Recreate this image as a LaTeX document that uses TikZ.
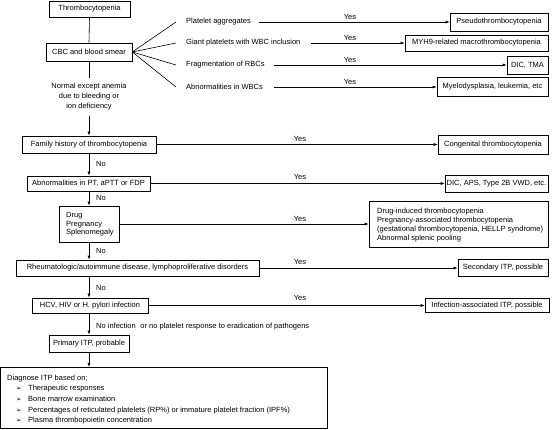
\documentclass[tikz,border=0pt]{standalone}
\usepackage{fontspec}
\setmainfont{Liberation Sans}
\newfontfamily\symfont{DejaVu Sans}
\usetikzlibrary{arrows.meta}
\begin{document}
\begin{tikzpicture}[x=1pt,y=-1pt, font=\fontsize{7.5}{9}\selectfont,
  box/.style={draw, line width=0.6pt, inner sep=0pt, align=center},
  ln/.style={line width=0.6pt},
  arr/.style={ln, -{Latex[length=4pt,width=3pt]}},
  lbl/.style={inner sep=0pt, anchor=base},
  txt/.style={inner sep=0pt, anchor=west},
  bul/.style={inner sep=0pt, anchor=base west, font=\symfont\fontsize{6.5}{7}\selectfont},
  ]
\useasboundingbox (0,0) rectangle (555,430);

% main column
\node[box, minimum width=81pt, minimum height=16pt] (thr) at (89.5,9) {Thrombocytopenia};
\node[box, minimum width=86pt, minimum height=18pt] (cbc) at (89,52) {CBC and blood smear};
\node[inner sep=0pt, align=center, font=\fontsize{7.5}{10}\selectfont] (norm) at (89,97) {Normal except anemia\\due to bleeding or\\ion deficiency};
\coordinate (n1) at (89,78);
\coordinate (n2) at (89,116);
\node[box, minimum width=134pt, minimum height=17pt] (fam) at (89,144.5) {Family history of thrombocytopenia};
\node[box, minimum width=123pt, minimum height=15pt] (abn) at (88.5,183.5) {Abnormalities in PT, aPTT or FDP};
\node[box, minimum width=60pt, minimum height=36pt] (drug) at (89,224) {};
\node[txt, align=left, font=\fontsize{7.5}{8.7}\selectfont] (drugt) at (66,224.5) {Drug\\Pregnancy\\Splenomegaly};
\node[box, minimum width=243pt, minimum height=16pt] (rheu) at (137.5,268) {Rheumatologic/autoimmune disease, lymphoproliferative disorders};
\node[box, minimum width=116pt, minimum height=15pt] (hcv) at (90,305.5) {HCV, HIV or H. pylori infection};
\node[box, minimum width=80pt, minimum height=17pt] (prim) at (89,343.5) {Primary ITP, probable};
\node[draw, line width=0.6pt, inner sep=0pt, anchor=north west, minimum width=326.5pt, minimum height=61pt] (diag) at (0.5,367) {};

% connectors main column
\draw[ln] (thr.south) -- (cbc.north);
\draw[ln] (cbc.south) -- (n1);
\draw[arr] (n2) -- (fam.north);
\draw[arr] (fam.south) -- (abn.north -| fam.south);
\draw[arr] (abn.south -| drug.north) -- (drug.north);
\draw[arr] (drug.south) -- (drug.south |- rheu.north);
\draw[arr] (drug.south |- rheu.south) -- (drug.south |- hcv.north);
\draw[arr] (drug.south |- hcv.south) -- (drug.south |- prim.north);
\draw[arr] (drug.south |- prim.south) -- (drug.south |- diag.north);

\node[lbl, anchor=base west] (no1) at (96,166.5) {No};
\node[lbl, anchor=base west] (no2) at (96,200.5) {No};
\node[lbl, anchor=base west] (no3) at (96,253.5) {No};
\node[lbl, anchor=base west] (no4) at (96,290.5) {No};
\node[lbl, anchor=base west] (noinf) at (96,328.5) {No infection\hspace{2.5pt} or no platelet response to eradication of pathogens};

% fan from CBC
\coordinate (f1) at (176,22);
\coordinate (f2) at (176,43);
\coordinate (f3) at (176,65);
\coordinate (f4) at (176,87);
\draw[ln] (cbc.east) -- (f1);
\draw[ln] (cbc.east) -- (f2);
\draw[ln] (cbc.east) -- (f3);
\draw[ln] (cbc.east) -- (f4);
\node[txt] (t1) at (186,22) {Platelet aggregates};
\node[txt] (t2) at (186,43) {Giant platelets with WBC inclusion};
\node[txt] (t3) at (186,65) {Fragmentation of RBCs};
\node[txt] (t4) at (186,87) {Abnormalities in WBCs};

% result boxes
\node[box, minimum width=98pt, minimum height=18pt] (pseudo) at (499,22) {Pseudothrombocytopenia};
\node[box, minimum width=143pt, minimum height=16pt] (myh) at (476.5,43) {MYH9-related macrothrombocytopenia};
\node[box, minimum width=41pt, minimum height=18pt] (dtma) at (527.5,65) {DIC, TMA};
\node[box, minimum width=111pt, minimum height=19pt] (myel) at (492.5,87) {Myelodysplasia, leukemia, etc};
\node[box, minimum width=110pt, minimum height=19pt] (cong) at (493,144.5) {Congenital thrombocytopenia};
\node[box, minimum width=103pt, minimum height=17pt] (daps) at (496.5,183.5) {DIC, APS, Type 2B VWD, etc.};
\node[box, minimum width=179pt, minimum height=46pt] (dres) at (458.5,224) {};
\node[txt, align=left, font=\fontsize{7.5}{9}\selectfont] (drest) at (377,225) {Drug-induced thrombocytopenia\\Pregnancy-associated thrombocytopenia\\(gestational thrombocytopenia, HELLP syndrome)\\Abnormal splenic pooling};
\node[box, minimum width=90pt, minimum height=17pt] (sitp) at (503,268) {Secondary ITP, possible};
\node[box, minimum width=124pt, minimum height=14pt] (iitp) at (487,305.5) {Infection-associated ITP, possible};

% yes connectors
\draw[arr] ([xshift=8pt]t1.east) -- (pseudo.west);
\draw[arr] ([xshift=10pt]t2.east) -- (myh.west);
\draw[arr] ([xshift=9pt]t3.east) -- (dtma.west);
\draw[arr] ([xshift=11pt]t4.east) -- (myel.west);
\draw[arr] (fam.east) -- (cong.west);
\draw[arr] (abn.east) -- (daps.west);
\draw[arr] (drug.east) -- (dres.west);
\draw[arr] (rheu.east) -- (sitp.west);
\draw[arr] (hcv.east) -- (iitp.west);

\node[lbl] (y1) at (350,19.5) {Yes};
\node[lbl] (y2) at (350,40.5) {Yes};
\node[lbl] (y3) at (350,62.5) {Yes};
\node[lbl] (y4) at (350,84.5) {Yes};
\node[lbl] (y5) at (300,142) {Yes};
\node[lbl] (y6) at (300,179.5) {Yes};
\node[lbl] (y7) at (300,221.5) {Yes};
\node[lbl] (y8) at (300,265) {Yes};
\node[lbl] (y9) at (300,300.5) {Yes};

% diagnose box text
\node[lbl, anchor=base west] (d0) at (7,381) {Diagnose ITP based on;};
\node[bul] (b1) at (16,391) {➢};
\node[bul] (b2) at (16,402) {➢};
\node[bul] (b3) at (16,413) {➢};
\node[bul] (b4) at (16,423) {➢};
\node[lbl, anchor=base west] (d1) at (28,391) {Therapeutic responses};
\node[lbl, anchor=base west] (d2) at (28,402) {Bone marrow examination};
\node[lbl, anchor=base west] (d3) at (28,413) {Percentages of reticulated platelets (RP\%) or immature platelet fraction (IPF\%)};
\node[lbl, anchor=base west] (d4) at (28,423) {Plasma thrombopoietin concentration};
\end{tikzpicture}
\end{document}
